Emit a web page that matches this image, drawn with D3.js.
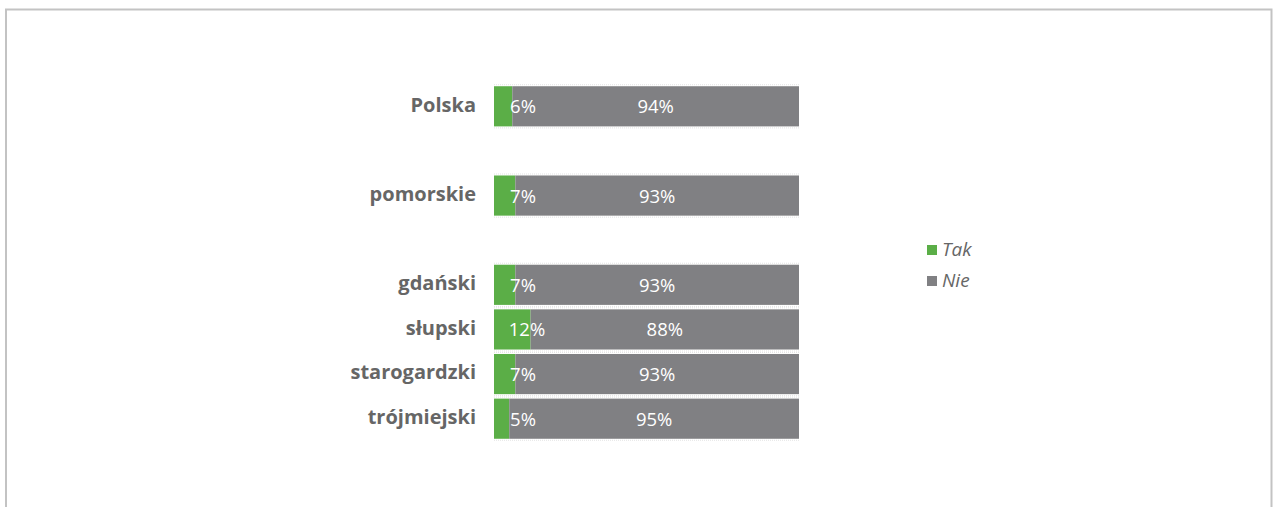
<!DOCTYPE html>
<html><head><meta charset="utf-8">
<script src="https://cdn.jsdelivr.net/npm/d3@7"></script>
<style>
html,body{margin:0;padding:0;background:#fff;}
svg{display:block;}
</style></head>
<body>
<svg id="chart" width="1273" height="507"></svg>
<script>
const categories = ["Polska", "", "pomorskie", " ", "gdański", "słupski", "starogardzki", "trójmiejski"];
const takValues = [6, null, 7, null, 7, 12, 7, 5];
const nieValues = [94, null, 93, null, 93, 88, 93, 95];
const seriesNames = ["Tak", "Nie"];
const colors = ["#5bae47", "#808083"];

const svg = d3.select("#chart");
const font = "'Open Sans', 'Noto Sans', sans-serif";

// frame
svg.append("path")
  .attr("d", "M6,508 L6,9.5 L1271.5,9.5 L1271.5,508")
  .attr("fill", "none").attr("stroke", "#c3c3c3").attr("stroke-width", 2);

const x = d3.scaleLinear().domain([0, 100]).range([494, 799]);
const y = d3.scaleBand().domain(categories).range([84, 441]).paddingInner(0.1).paddingOuter(0.05);

const rows = categories.map((c, i) => ({cat: c, tak: takValues[i], nie: nieValues[i]})).filter(d => d.tak != null);

// faint dotted guide lines
rows.forEach(d => {
  [y(d.cat) - 1.5, y(d.cat) + y.bandwidth() + 1.5].forEach(yy => {
    svg.append("line").attr("x1", x(0)).attr("x2", x(100)).attr("y1", yy).attr("y2", yy)
      .attr("stroke", "#e4e4e4").attr("stroke-width", 1).attr("stroke-dasharray", "1,1");
  });
});

const g = svg.append("g");
rows.forEach(d => {
  g.append("rect").attr("x", x(0)).attr("y", y(d.cat))
    .attr("width", x(d.tak) - x(0)).attr("height", y.bandwidth()).attr("fill", colors[0]);
  g.append("rect").attr("x", x(d.tak)).attr("y", y(d.cat))
    .attr("width", x(d.tak + d.nie) - x(d.tak)).attr("height", y.bandwidth()).attr("fill", colors[1]);
  const cy = y(d.cat) + y.bandwidth() / 2;
  g.append("text").attr("x", x(0) + 29 + (d.tak > 10 ? 4 : 0)).attr("y", cy + 2)
    .attr("text-anchor", "middle").attr("dominant-baseline", "middle")
    .attr("fill", "#fff").attr("font-family", font).attr("font-size", 18.5)
    .text(d.tak + "%");
  g.append("text").attr("x", (x(d.tak) + x(100)) / 2).attr("y", cy + 2)
    .attr("text-anchor", "middle").attr("dominant-baseline", "middle")
    .attr("fill", "#fff").attr("font-family", font).attr("font-size", 18.5)
    .text(d.nie + "%");
  svg.append("text").attr("x", 476).attr("y", cy)
    .attr("text-anchor", "end").attr("dominant-baseline", "middle")
    .attr("fill", "#666").attr("font-family", font).attr("font-size", 20).attr("font-weight", "bold")
    .text(d.cat);
});

// legend
const leg = svg.append("g").attr("transform", "translate(927,245)");
seriesNames.forEach((n, i) => {
  leg.append("rect").attr("x", 0).attr("y", i * 31).attr("width", 10).attr("height", 10).attr("fill", colors[i]);
  leg.append("text").attr("x", 15).attr("y", i * 31 + 6).attr("dominant-baseline", "middle")
    .attr("fill", "#666").attr("font-family", font).attr("font-size", 19).attr("font-style", "italic")
    .text(n);
});
</script>
</body></html>
